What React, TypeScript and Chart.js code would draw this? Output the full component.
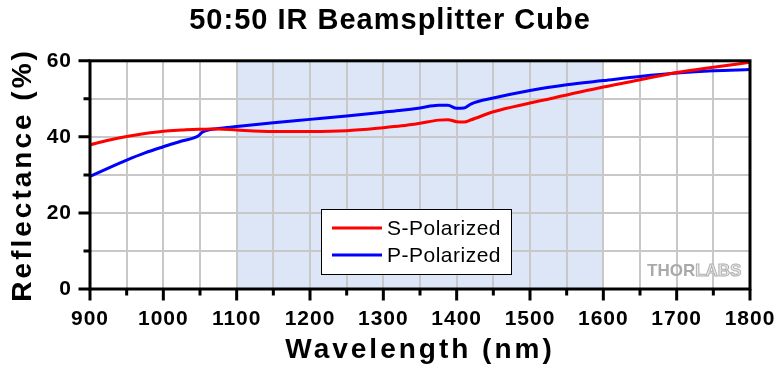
import { useEffect, useRef } from 'react';
import { Chart, registerables } from 'chart.js';

Chart.register(...registerables);

// ---- data ----
const wavelengths = [900, 925, 950, 975, 1000, 1025, 1048, 1053, 1075, 1100, 1150, 1200, 1250, 1300, 1325, 1350, 1375, 1388, 1400, 1410, 1420, 1450, 1500, 1550, 1600, 1650, 1700, 1750, 1800];
const sPolarized = [37.9, 39.1, 40.1, 40.9, 41.5, 41.8, 42.0, 42.0, 42.1, 41.8, 41.4, 41.4, 41.6, 42.4, 42.9, 43.6, 44.4, 44.5, 44.0, 43.9, 44.5, 46.6, 48.9, 51.0, 53.1, 55.0, 56.9, 58.3, 59.6];
const pPolarized = [29.6, 31.8, 33.9, 35.8, 37.4, 38.9, 40.3, 41.2, 42.2, 42.7, 43.7, 44.6, 45.5, 46.5, 47.0, 47.6, 48.3, 48.3, 47.5, 47.6, 48.7, 50.2, 52.2, 53.7, 54.8, 55.9, 56.8, 57.4, 57.7];
const seriesLabels = ['S-Polarized', 'P-Polarized'];
const seriesColors = ['#ff0000', '#0000ff'];
const bandRange = [1100, 1600];
const xRange = [900, 1800];
const xStep = 50;
const xLabelStep = 100;
const yRange = [0, 60];
const yStep = 10;
const yLabelStep = 20;
const chartTitle = '50:50 IR Beamsplitter Cube';
const xTitle = 'Wavelength (nm)';
const yTitle = 'Reflectance (%)';
const watermark = ['THOR', 'LABS'];

const FONT = '"Liberation Sans", Arial, Helvetica, sans-serif';

const decorPlugin = {
  id: 'decor',
  beforeDraw(chart: any) {
    const ctx = chart.ctx;
    const wrap = (obj: any, key: string, spacing: string, expand = 0) => {
      if (!obj || obj['__sp_' + key]) return;
      const orig = obj[key];
      obj[key] = function (...args: any[]) {
        ctx.save();
        ctx.letterSpacing = spacing;
        const t = this.top, b = this.bottom;
        if (expand) { this.top = t - expand; this.bottom = b + expand; }
        const r = orig.apply(this, args);
        if (expand) { this.top = t; this.bottom = b; }
        ctx.restore();
        return r;
      };
      obj['__sp_' + key] = true;
    };
    wrap(chart.titleBlock, 'draw', '1px');
    Object.values(chart.scales).forEach((s: any) => {
      wrap(s, 'drawTitle', '3px', s.isHorizontal() ? 0 : 100);
      wrap(s, 'drawLabels', '1px');
    });
    const { top, bottom } = chart.chartArea;
    const xs = chart.scales.x;
    const x0 = xs.getPixelForValue(bandRange[0]);
    const x1 = xs.getPixelForValue(bandRange[1]);
    ctx.save();
    ctx.fillStyle = 'rgb(220,230,246)';
    ctx.fillRect(x0, top, x1 - x0, bottom - top);
    ctx.restore();
  },
  afterDatasetsDraw(chart: any) {
    const ctx = chart.ctx;
    const { left, right, top, bottom } = chart.chartArea;
    const xs = chart.scales.x;
    const ys = chart.scales.y;
    ctx.save();
    // frame
    ctx.strokeStyle = '#000';
    ctx.lineWidth = 3;
    ctx.strokeRect(left, top, right - left, bottom - top);
    // outward tick marks
    ctx.lineWidth = 3;
    ctx.beginPath();
    xs.ticks.forEach((t: any) => {
      const px = xs.getPixelForValue(t.value);
      const len = t.value % xLabelStep === 0 ? 10 : 5;
      ctx.moveTo(px, bottom);
      ctx.lineTo(px, bottom + 1.5 + len);
    });
    ys.ticks.forEach((t: any) => {
      const py = ys.getPixelForValue(t.value);
      const len = t.value % yLabelStep === 0 ? 10 : 5;
      ctx.moveTo(left, py);
      ctx.lineTo(left - 1.5 - len, py);
    });
    ctx.stroke();

    // watermark
    ctx.font = `bold 17px ${FONT}`;
    ctx.textBaseline = 'alphabetic';
    ctx.textAlign = 'left';
    const wx = 647, wy = 276;
    ctx.fillStyle = '#a9a9a9';
    ctx.fillText(watermark[0], wx, wy);
    const w0 = ctx.measureText(watermark[0]).width;
    ctx.fillStyle = '#ececec';
    ctx.fillText(watermark[1], wx + w0, wy);
    ctx.strokeStyle = '#b0b0b0';
    ctx.lineWidth = 1;
    ctx.strokeText(watermark[1], wx + w0, wy);

    // legend
    const lx = 321.5, ly = 209.5, lw = 190, lh = 65;
    ctx.fillStyle = '#fff';
    ctx.fillRect(lx, ly, lw, lh);
    ctx.strokeStyle = '#000';
    ctx.lineWidth = 1;
    ctx.strokeRect(lx, ly, lw, lh);
    ctx.font = `21px ${FONT}`;
    ctx.textBaseline = 'middle';
    (ctx as any).letterSpacing = '0.5px';
    chart.data.datasets.forEach((ds: any, i: number) => {
      const yy = 228 + i * 27;
      ctx.strokeStyle = ds.borderColor;
      ctx.lineWidth = 3;
      ctx.beginPath();
      ctx.moveTo(332, yy);
      ctx.lineTo(382, yy);
      ctx.stroke();
      ctx.fillStyle = '#000';
      ctx.fillText(ds.label, 387, yy + 1);
    });
    ctx.restore();
  },
};

export default function App() {
  const ref = useRef<HTMLCanvasElement>(null);
  useEffect(() => {
    document.body.style.margin = '0';
    const tickFont = { family: FONT, size: 21, weight: 'bold' as const };
    const titleFont = { family: FONT, size: 28, weight: 'bold' as const };
    const chart = new Chart(ref.current!, {
      type: 'line',
      data: {
        datasets: [sPolarized, pPolarized].map((vals, i) => ({
          label: seriesLabels[i],
          data: wavelengths.map((w, j) => ({ x: w, y: vals[j] })),
          borderColor: seriesColors[i],
          backgroundColor: seriesColors[i],
          borderWidth: 3,
          pointRadius: 0,
          fill: false,
          cubicInterpolationMode: 'monotone' as const,
        })),
      },
      options: {
        responsive: false,
        animation: false,
        layout: { padding: { left: 0, right: 0, top: 0, bottom: 0 } },
        plugins: {
          legend: { display: false },
          tooltip: { enabled: false },
          title: {
            display: true,
            text: chartTitle,
            color: '#000',
            font: { family: FONT, size: 29, weight: 'bold' },
            padding: { top: 4, bottom: 22 },
          },
        },
        scales: {
          x: {
            type: 'linear',
            min: xRange[0],
            max: xRange[1],
            afterFit: (s: any) => { s.height = 81; s.paddingRight = 30; s.paddingLeft = 0; },
            border: { display: false },
            grid: { color: '#c8c8c8', lineWidth: 2, drawTicks: false },
            ticks: {
              stepSize: xStep,
              autoSkip: false,
              maxRotation: 0,
              color: '#000',
              font: tickFont,
              padding: 18,
              callback: (v: any) => (Number(v) % xLabelStep === 0 ? String(v) : ''),
            },
            title: { display: true, text: xTitle, color: '#000', font: titleFont, padding: { top: 0, bottom: 3 } },
          },
          y: {
            type: 'linear',
            min: yRange[0],
            max: yRange[1],
            afterFit: (s: any) => { s.width = 90; },
            border: { display: false },
            grid: { color: '#c8c8c8', lineWidth: 2, drawTicks: false },
            ticks: {
              stepSize: yStep,
              autoSkip: false,
              color: '#000',
              font: tickFont,
              padding: 18,
              callback: (v: any) => (Number(v) % yLabelStep === 0 ? String(v) : ''),
            },
            title: { display: true, text: yTitle, color: '#000', font: titleFont, padding: { top: 6, bottom: 0 } },
          },
        },
      },
      plugins: [decorPlugin],
    } as any);
    return () => chart.destroy();
  }, []);
  return (
    <div style={{ width: 780, height: 370 }}>
      <canvas ref={ref} width={780} height={370} style={{ display: 'block' }} />
    </div>
  );
}
